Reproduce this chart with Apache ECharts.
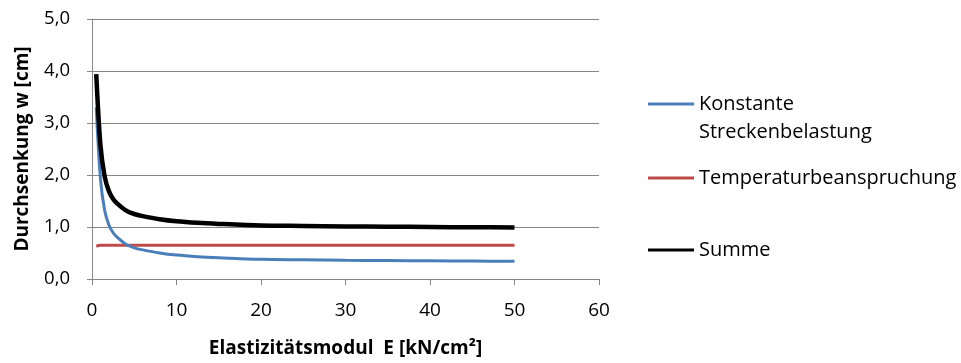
<!DOCTYPE html>
<html>
<head>
<meta charset="utf-8">
<script src="https://cdn.jsdelivr.net/npm/echarts@6/dist/echarts.min.js"></script>
<style>
  html, body { margin: 0; padding: 0; background: #fff; }
  #chart { width: 961px; height: 363px; }
</style>
</head>
<body>
<div id="chart"></div>
<script>
// Elastic modulus E [kN/cm²] at which deflection was evaluated
const modulusE = [0.5, 1, 1.5, 2, 2.5, 3, 4, 5, 6, 8, 10, 12.5, 15, 20, 25, 30, 35, 40, 45, 50];
// Deflection w [cm] from constant distributed load
const constantLoad = [3.30, 1.92, 1.32, 1.04, 0.89, 0.80, 0.67, 0.60, 0.56, 0.50, 0.46, 0.43, 0.41, 0.38, 0.37, 0.36, 0.355, 0.35, 0.345, 0.34];
// Deflection w [cm] from temperature loading
const temperatureLoad = [0.63, 0.65, 0.65, 0.65, 0.65, 0.65, 0.65, 0.65, 0.65, 0.65, 0.65, 0.65, 0.65, 0.65, 0.65, 0.65, 0.65, 0.65, 0.65, 0.65];
// Total deflection w [cm]
const totalDeflection = [3.94, 2.57, 1.97, 1.69, 1.54, 1.45, 1.32, 1.25, 1.21, 1.15, 1.11, 1.08, 1.06, 1.03, 1.02, 1.01, 1.005, 1.0, 0.995, 0.99];

const seriesNames = ['Konstante Streckenbelastung', 'Temperaturbeanspruchung', 'Summe'];
const xTicks = [0, 10, 20, 30, 40, 50, 60];
const yTicks = [0, 1, 2, 3, 4, 5];

const FONT = '"Open Sans", sans-serif';
const GRID_GRAY = '#868686';

const pairs = (ys) => modulusE.map((x, i) => [x, ys[i]]);

const chart = echarts.init(document.getElementById('chart'), null, { renderer: 'canvas' });

// One legend block per series so each entry sits at its own height;
// the wrapped label gets a blank leading line so its first line lines up with the key.
function legendBlock(name, top) {
  return {
    orient: 'vertical',
    left: 648,
    top: top,
    padding: 0,
    itemWidth: 46,
    itemHeight: 3,
    itemGap: 0,
    icon: 'rect',
    data: [name],
    formatter: (n) => n === seriesNames[0] ? ' \nKonstante\nStreckenbelastung' : n,
    textStyle: { fontFamily: FONT, fontSize: 20, color: '#000', lineHeight: 28 }
  };
}

chart.setOption({
  animation: false,
  backgroundColor: '#fff',
  grid: { left: 92, right: 362, top: 19, bottom: 82 },
  legend: [
    legendBlock(seriesNames[0], 62),
    legendBlock(seriesNames[1], 164),
    legendBlock(seriesNames[2], 236)
  ],
  xAxis: {
    type: 'value',
    min: xTicks[0],
    max: xTicks[xTicks.length - 1],
    interval: xTicks[1] - xTicks[0],
    name: 'Elastizitätsmodul  E [kN/cm²]',
    nameLocation: 'middle',
    nameGap: 60,
    nameTextStyle: { fontFamily: FONT, fontSize: 19, fontWeight: 'bold', color: '#000' },
    axisLine: { show: true, lineStyle: { color: GRID_GRAY, width: 1 } },
    axisTick: { show: true, inside: false, length: 6, lineStyle: { color: GRID_GRAY } },
    axisLabel: { fontFamily: FONT, fontSize: 19, color: '#000', margin: 22 },
    splitLine: { show: false }
  },
  yAxis: {
    type: 'value',
    min: yTicks[0],
    max: yTicks[yTicks.length - 1],
    interval: yTicks[1] - yTicks[0],
    name: 'Durchsenkung w [cm]',
    nameLocation: 'middle',
    nameGap: 60,
    nameTextStyle: { fontFamily: FONT, fontSize: 19, fontWeight: 'bold', color: '#000' },
    axisLine: { show: true, lineStyle: { color: GRID_GRAY, width: 1 } },
    axisTick: { show: true, inside: false, length: 5, lineStyle: { color: GRID_GRAY } },
    axisLabel: {
      fontFamily: FONT, fontSize: 18.5, color: '#000', margin: 22,
      formatter: (v) => v.toFixed(1).replace('.', ',')
    },
    splitLine: { show: true, lineStyle: { color: GRID_GRAY, width: 1 } }
  },
  series: [
    {
      name: seriesNames[0], type: 'line', data: pairs(constantLoad),
      symbol: 'none', smooth: 0.3,
      lineStyle: { color: '#4A7EBB', width: 3 }, itemStyle: { color: '#4A7EBB' }, z: 3
    },
    {
      name: seriesNames[1], type: 'line', data: pairs(temperatureLoad),
      symbol: 'none', smooth: 0.3,
      lineStyle: { color: '#BE4B48', width: 3 }, itemStyle: { color: '#BE4B48' }, z: 2
    },
    {
      name: seriesNames[2], type: 'line', data: pairs(totalDeflection),
      symbol: 'none', smooth: 0.3,
      lineStyle: { color: '#000000', width: 4.5 }, itemStyle: { color: '#000000' }, z: 4
    }
  ]
});
</script>
</body>
</html>
